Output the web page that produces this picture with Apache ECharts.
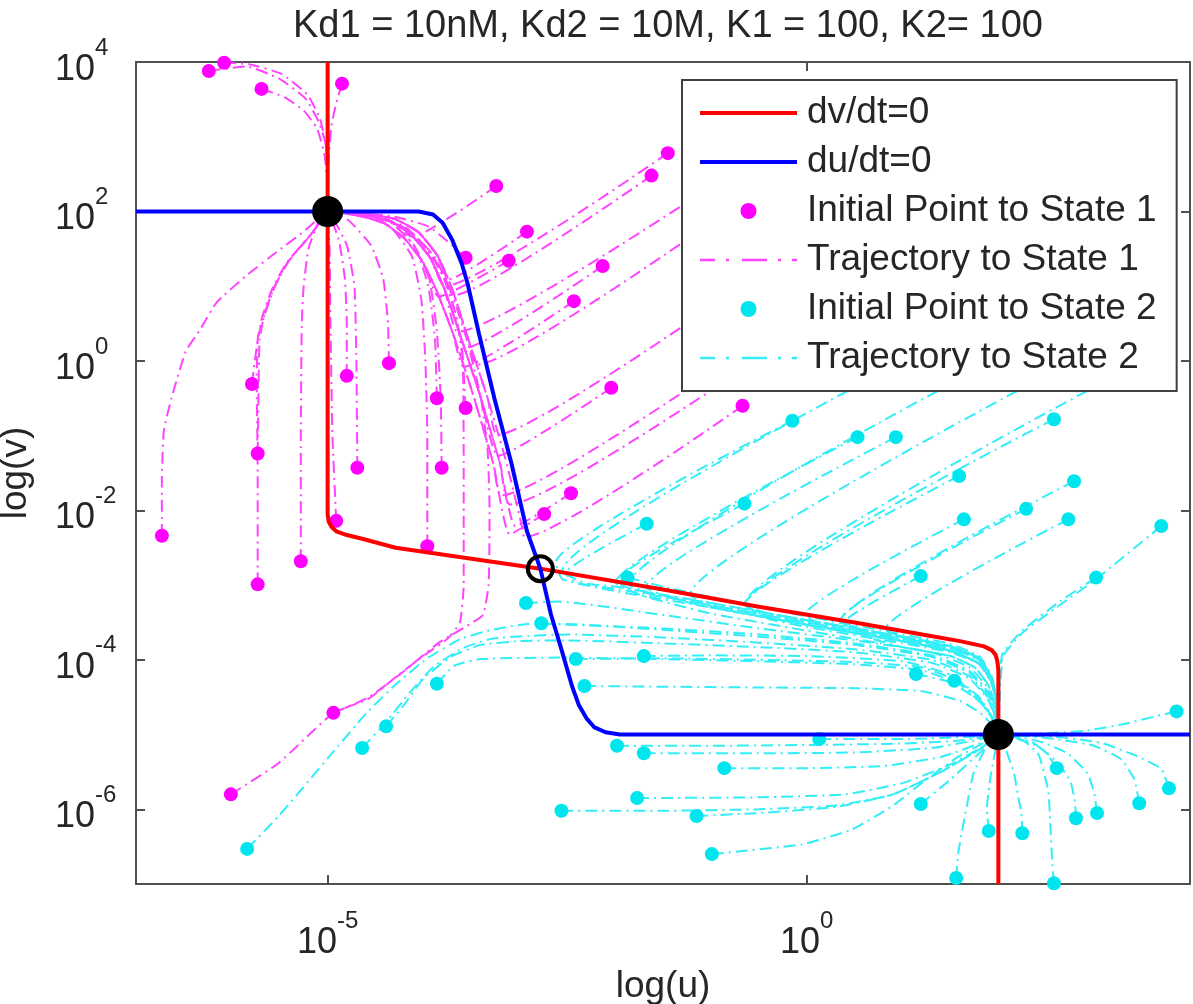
<!DOCTYPE html>
<html><head><meta charset="utf-8">
<script src="https://cdn.jsdelivr.net/npm/echarts@6/dist/echarts.min.js"></script>
<style>html,body{margin:0;padding:0;background:#fff}#c{width:1193px;height:1004px}</style>
</head><body><div id="c"></div>
<script>
// All values are log10 exponents: [log(u), log(v)]
const xTicks = [-5, 0];
const yTicks = [-6, -4, -2, 0, 2, 4];

const redNullcline = [[-5,4],[-5,-2.05],[-4.99,-2.15],[-4.96,-2.22],[-4.91,-2.28],[-4.8,-2.33],[-4.64,-2.38],[-4.29,-2.5],[-2.78,-2.78],[-1.5,-3.06],[-0.5,-3.29],[0.5,-3.5],[1.25,-3.67],[1.6,-3.75],[1.85,-3.82],[1.93,-3.87],[1.97,-3.93],[1.99,-4.02],[2,-4.15],[2,-7]];
const blueNullcline = [[-7,2],[-4.05,2],[-3.9,1.96],[-3.8,1.85],[-3.7,1.62],[-3.6,1.3],[-3.54,1.04],[-3.42,0.36],[-3.26,-0.5],[-3.08,-1.38],[-2.92,-2.28],[-2.78,-2.78],[-2.67,-3.39],[-2.56,-3.86],[-2.45,-4.35],[-2.38,-4.6],[-2.3,-4.78],[-2.22,-4.9],[-2.1,-4.97],[-1.95,-5],[4,-5]];
const stableStates = [[-5,2],[2,-5]];
const saddlePoint = [[-2.78,-2.78]];

// trajectories to state 1 (first point = initial point)
const trajectories1 = [
 [[-6.24,3.88],[-5.85,3.94],[-5.51,3.78],[-5.23,3.51],[-5.09,3.19],[-5.02,2.9],[-5.0,2.4],[-5,2]],
 [[-6.08,3.99],[-5.82,3.97],[-5.48,3.84],[-5.21,3.56],[-5.08,3.24],[-5.02,2.88],[-5.0,2.4],[-5,2]],
 [[-5.69,3.64],[-5.45,3.53],[-5.25,3.35],[-5.11,3.11],[-5.03,2.74],[-5.0,2.3],[-5,2]],
 [[-4.85,3.71],[-4.91,3.45],[-4.96,3.15],[-4.99,2.68],[-5,2]],
 [[-6.73,-2.34],[-6.73,-1.61],[-6.71,-0.94],[-6.63,-0.5],[-6.48,0.13],[-6.34,0.4],[-6.16,0.78],[-5.85,1.14],[-5.54,1.45],[-5.27,1.71],[-5.09,1.91],[-5,2]],
 [[-5.73,-2.99],[-5.73,-1.5],[-5.74,-0.3],[-5.73,0.29],[-5.68,0.6],[-5.58,0.96],[-5.43,1.31],[-5.19,1.67],[-5,2]],
 [[-5.73,-1.24],[-5.72,-0.3],[-5.71,0.29],[-5.66,0.62],[-5.56,0.98],[-5.41,1.33],[-5.18,1.68],[-5,2]],
 [[-5.79,-0.31],[-5.76,0.0],[-5.72,0.35],[-5.65,0.65],[-5.55,1.0],[-5.4,1.35],[-5.17,1.7],[-5,2]],
 [[-5.28,-2.68],[-5.28,-1.0],[-5.27,0.5],[-5.25,1.0],[-5.2,1.5],[-5.1,1.85],[-5,2]],
 [[-4.8,-0.2],[-4.8,0.5],[-4.82,1.1],[-4.88,1.6],[-4.96,1.9],[-5,2]],
 [[-4.69,-1.43],[-4.7,0.0],[-4.72,1.0],[-4.8,1.55],[-4.93,1.88],[-5,2]],
 [[-4.36,-0.03],[-4.37,0.5],[-4.42,1.1],[-4.55,1.55],[-4.78,1.88],[-5,2]],
 [[-4.91,-2.14],[-4.95,-1.0],[-4.97,0.5],[-4.98,1.5],[-5,2]],
 [[-3.96,-2.48],[-3.96,-1.0],[-3.98,0.0],[-4.02,0.8],[-4.12,1.4],[-4.35,1.8],[-4.7,1.96],[-5,2]],
 [[-3.86,-0.5],[-3.88,0.3],[-3.95,1.0],[-4.08,1.5],[-4.33,1.85],[-4.7,1.97],[-5,2]],
 [[-3.81,-1.43],[-3.82,-0.5],[-3.86,0.4],[-3.94,1.1],[-4.1,1.55],[-4.35,1.86],[-4.7,1.97],[-5,2]],
 [[-3.56,-0.63],[-3.6,0.2],[-3.72,0.9],[-3.9,1.4],[-4.15,1.75],[-4.5,1.93],[-5,2]],
 [[-3.56,1.38],[-3.75,1.6],[-3.95,1.8],[-4.3,1.93],[-4.7,1.98],[-5,2]],
 [[-6.01,-5.8],[-5.51,-5.38],[-4.94,-4.71],[-4.57,-4.52],[-4.25,-4.19],[-3.96,-3.91],[-3.75,-3.72],[-3.62,-3.5],[-3.58,-3.0],[-3.58,-1.5],[-3.59,0.0],[-3.66,0.6],[-3.8,1.15],[-4.0,1.55],[-4.3,1.85],[-4.7,1.97],[-5,2]],
 [[-4.94,-4.71],[-4.57,-4.5],[-4.2,-4.15],[-3.85,-3.78],[-3.55,-3.55],[-3.38,-3.4],[-3.32,-3.0],[-3.31,-2.0],[-3.33,-1.2],[-3.4,-0.5],[-3.55,0.3],[-3.72,0.95],[-3.9,1.42],[-4.2,1.8],[-4.65,1.96],[-5,2]],
 [[-1.45,2.78],[-3.78,1.0],[-3.93,1.38],[-4.13,1.69],[-4.36,1.88],[-4.66,1.96],[-5,2]],
 [[-1.62,2.48],[-3.68,0.88],[-3.85,1.4],[-4.05,1.72],[-4.3,1.9],[-4.62,1.97],[-5,2]],
 [[-2.13,1.27],[-3.57,0.17],[-3.62,0.36],[-3.78,0.96],[-3.93,1.38],[-4.13,1.69],[-4.36,1.88],[-4.66,1.96],[-5,2]],
 [[-2.43,0.8],[-3.58,-0.08],[-3.69,0.36],[-3.86,0.93],[-4.01,1.33],[-4.2,1.64],[-4.42,1.85],[-4.7,1.95],[-5,2]],
 [[-2.92,1.73],[-3.74,1.09],[-3.85,1.4],[-4.05,1.72],[-4.3,1.9],[-4.62,1.97],[-5,2]],
 [[-3.11,1.34],[-3.84,0.86],[-4.01,1.33],[-4.2,1.64],[-4.42,1.85],[-4.7,1.95],[-5,2]],
 [[-3.24,2.34],[-4.12,1.66],[-4.36,1.88],[-4.66,1.96],[-5,2]],
 [[-2.04,-0.36],[-3.22,-1.27],[-3.4,-0.5],[-3.62,0.36],[-3.78,0.96],[-3.93,1.38],[-4.13,1.69],[-4.36,1.88],[-4.66,1.96],[-5,2]],
 [[-0.67,-0.6],[-2.95,-2.36],[-2.96,-2.28],[-3.13,-1.38],[-3.33,-0.5],[-3.55,0.36],[-3.7,0.96],[-3.85,1.4],[-4.05,1.72],[-4.3,1.9],[-4.62,1.97],[-5,2]],
 [[-2.46,-1.77],[-3.04,-2.21],[-3.2,-1.38],[-3.4,-0.5],[-3.62,0.36],[-3.78,0.96],[-3.93,1.38],[-4.13,1.69],[-4.36,1.88],[-4.66,1.96],[-5,2]],
 [[-2.74,-2.05],[-3.1,-2.32],[-3.27,-1.38],[-3.47,-0.5],[-3.69,0.36],[-3.86,0.93],[-4.01,1.33],[-4.2,1.64],[-4.42,1.85],[-4.7,1.95],[-5,2]],
 [[-0.91,0.8],[-3.23,-0.99],[-3.33,-0.5],[-3.55,0.36],[-3.7,0.96],[-3.85,1.4],[-4.05,1.72],[-4.3,1.9],[-4.62,1.97],[-5,2]],
 [[-0.5,0.27],[-3.19,-1.8],[-3.27,-1.38],[-3.47,-0.5],[-3.69,0.36],[-3.86,0.93],[-4.01,1.33],[-4.2,1.64],[-4.42,1.85],[-4.7,1.95],[-5,2]],
 [[-0.08,0.4],[-3.1,-1.92],[-3.2,-1.38],[-3.4,-0.5],[-3.62,0.36],[-3.78,0.96],[-3.93,1.38],[-4.13,1.69],[-4.36,1.88],[-4.66,1.96],[-5,2]],
 [[-1.12,1.74],[-3.44,-0.05],[-3.55,0.36],[-3.7,0.96],[-3.85,1.4],[-4.05,1.72],[-4.3,1.9],[-4.62,1.97],[-5,2]],
 [[-0.91,2.41],[-3.64,0.39],[-3.78,0.96],[-3.93,1.38],[-4.13,1.69],[-4.36,1.88],[-4.66,1.96],[-5,2]]
];

// trajectories to state 2 (first point = initial point)
const trajectories2 = [
 [[-5.84,-6.53],[-5.51,-6.09],[-4.98,-5.29],[-4.6,-4.72],[-4.29,-4.33],[-3.96,-3.98],[-3.61,-3.72],[-3.29,-3.6],[-2.9,-3.52],[-2.5,-3.52],[-1.5,-3.6],[-0.5,-3.69],[0.5,-3.8],[1.3,-3.96],[1.7,-4.18],[1.9,-4.48],[1.98,-4.8],[2,-5]],
 [[-4.64,-5.18],[-4.4,-4.85],[-4.15,-4.45],[-3.9,-4.1],[-3.6,-3.85],[-3.3,-3.72],[-2.9,-3.68],[-2.5,-3.66],[-1.5,-3.7],[-0.5,-3.77],[0.5,-3.86],[1.3,-4.0],[1.7,-4.22],[1.9,-4.52],[1.98,-4.82],[2,-5]],
 [[-4.39,-4.89],[-4.2,-4.6],[-4.0,-4.25],[-3.7,-3.95],[-3.4,-3.8],[-3.0,-3.75],[-2.5,-3.74],[-1.5,-3.78],[-0.5,-3.83],[0.5,-3.9],[1.3,-4.04],[1.7,-4.25],[1.9,-4.55],[1.98,-4.83],[2,-5]],
 [[-2.93,-3.24],[-2.6,-3.22],[-1.5,-3.4],[-0.5,-3.58],[0.5,-3.74],[1.3,-3.9],[1.7,-4.1],[1.9,-4.4],[1.98,-4.75],[2,-5]],
 [[-2.77,-3.51],[-2.5,-3.53],[-1.5,-3.58],[-0.5,-3.66],[0.5,-3.78],[1.3,-3.94],[1.7,-4.15],[1.9,-4.45],[1.98,-4.78],[2,-5]],
 [[-2.41,-3.99],[-1.5,-3.98],[-0.5,-4.0],[0.5,-4.03],[1.2,-4.1],[1.6,-4.3],[1.85,-4.6],[1.97,-4.85],[2,-5]],
 [[-2.32,-4.35],[-1.5,-4.36],[-0.5,-4.37],[0.5,-4.38],[1.2,-4.42],[1.6,-4.55],[1.85,-4.75],[2,-5]],
 [[-1.7,-3.95],[-1.0,-3.94],[0.0,-3.95],[1.0,-4.02],[1.5,-4.2],[1.8,-4.5],[1.95,-4.8],[2,-5]],
 [[1.14,-4.19],[1.5,-4.3],[1.8,-4.55],[1.95,-4.8],[2,-5]],
 [[1.54,-4.28],[1.75,-4.45],[1.92,-4.75],[2,-5]],
 [[-3.86,-4.32],[-3.68,-4.08],[-3.4,-3.99],[-2.6,-3.97],[-1.5,-3.99],[-0.5,-4.02],[0.5,-4.06],[1.2,-4.14],[1.6,-4.33],[1.85,-4.62],[1.97,-4.86],[2,-5]],
 [[0.13,-5.06],[1.0,-5.06],[1.7,-5.03],[2,-5]],
 [[-1.98,-5.15],[-1.0,-5.15],[0.0,-5.14],[1.0,-5.12],[1.6,-5.08],[2,-5]],
 [[-1.7,-5.25],[-0.5,-5.25],[0.5,-5.24],[1.3,-5.18],[1.75,-5.08],[2,-5]],
 [[-0.86,-5.45],[0.0,-5.45],[0.8,-5.42],[1.4,-5.3],[1.8,-5.12],[2,-5]],
 [[-1.77,-5.85],[-0.5,-5.84],[0.4,-5.8],[1.0,-5.65],[1.5,-5.4],[1.85,-5.15],[2,-5]],
 [[-2.56,-6.02],[-1.5,-6.02],[-0.5,-6.0],[0.3,-5.95],[0.9,-5.8],[1.4,-5.5],[1.8,-5.2],[2,-5]],
 [[-1.15,-6.09],[-0.5,-6.05],[0.3,-5.97],[0.9,-5.8],[1.4,-5.5],[1.8,-5.2],[2,-5]],
 [[-0.99,-6.6],[-0.05,-6.47],[0.47,-6.27],[0.89,-5.96],[1.25,-5.6],[1.59,-5.29],[1.85,-5.11],[2,-5]],
 [[1.19,-5.93],[1.5,-5.6],[1.8,-5.25],[2,-5]],
 [[1.56,-6.92],[1.58,-6.6],[1.62,-6.3],[1.67,-5.96],[1.74,-5.52],[1.88,-5.15],[2,-5]],
 [[1.9,-6.29],[1.88,-6.0],[1.92,-5.55],[2,-5]],
 [[2.25,-6.32],[2.24,-6.05],[2.2,-5.78],[2.16,-5.5],[2.07,-5.18],[2,-5]],
 [[2.58,-6.99],[2.56,-6.67],[2.54,-6.13],[2.52,-5.75],[2.42,-5.27],[2.25,-5.07],[2,-5]],
 [[2.61,-5.45],[2.5,-5.25],[2.35,-5.1],[2.15,-5.03],[2,-5]],
 [[2.81,-6.12],[2.8,-5.9],[2.75,-5.62],[2.6,-5.35],[2.4,-5.15],[2.15,-5.04],[2,-5]],
 [[3.03,-6.05],[3.0,-5.78],[2.93,-5.52],[2.72,-5.25],[2.45,-5.1],[2.2,-5.03],[2,-5]],
 [[3.47,-5.92],[3.42,-5.6],[3.28,-5.33],[3.0,-5.15],[2.6,-5.06],[2.2,-5.01],[2,-5]],
 [[3.78,-5.72],[3.7,-5.46],[3.45,-5.29],[3.07,-5.11],[2.6,-5.03],[2,-5]],
 [[3.86,-4.69],[3.66,-4.75],[3.31,-4.86],[2.9,-4.95],[2.4,-4.99],[2,-5]],
 [[-0.15,-0.8],[-2.62,-2.7],[-2.55,-2.92],[-2.0,-3.08],[-1.0,-3.3],[0.0,-3.53],[1.0,-3.75],[1.5,-3.88],[1.8,-4.05],[1.93,-4.3],[1.99,-4.65],[2,-5]],
 [[0.53,-1.02],[-1.99,-2.96],[-1.7,-3.1],[-1.0,-3.24],[0.0,-3.47],[1.0,-3.69],[1.5,-3.82],[1.8,-3.98],[1.93,-4.25],[1.99,-4.6],[2,-5]],
 [[0.93,-1.02],[-1.68,-3.03],[-1.4,-3.18],[-1.0,-3.3],[0.0,-3.53],[1.0,-3.75],[1.5,-3.88],[1.8,-4.05],[1.93,-4.3],[1.99,-4.65],[2,-5]],
 [[-0.65,-1.91],[-2.0,-2.96],[-1.7,-3.15],[-1.0,-3.38],[0.0,-3.61],[1.0,-3.83],[1.5,-3.95],[1.75,-4.1],[1.9,-4.35],[1.98,-4.7],[2,-5]],
 [[1.19,-2.88],[0.39,-3.5],[0.65,-3.62],[1.0,-3.69],[1.5,-3.82],[1.8,-3.98],[1.93,-4.25],[1.99,-4.6],[2,-5]],
 [[1.59,-1.54],[-0.65,-3.26],[-0.4,-3.38],[0.0,-3.47],[1.0,-3.69],[1.5,-3.82],[1.8,-3.98],[1.93,-4.25],[1.99,-4.6],[2,-5]],
 [[1.64,-2.12],[-0.02,-3.4],[0.25,-3.58],[1.0,-3.75],[1.5,-3.88],[1.8,-4.05],[1.93,-4.3],[1.99,-4.65],[2,-5]],
 [[2.29,-1.98],[0.34,-3.48],[0.6,-3.62],[1.0,-3.75],[1.5,-3.88],[1.8,-4.05],[1.93,-4.3],[1.99,-4.65],[2,-5]],
 [[2.58,-0.78],[-0.64,-3.26],[-0.4,-3.43],[0.0,-3.53],[1.0,-3.75],[1.5,-3.88],[1.8,-4.05],[1.93,-4.3],[1.99,-4.65],[2,-5]],
 [[2.73,-2.12],[0.82,-3.59],[1.05,-3.72],[1.5,-3.82],[1.8,-3.98],[1.93,-4.25],[1.99,-4.6],[2,-5]],
 [[2.79,-1.61],[0.35,-3.48],[0.6,-3.68],[1.0,-3.83],[1.5,-3.95],[1.75,-4.1],[1.9,-4.35],[1.98,-4.7],[2,-5]],
 [[3.7,-2.21],[3.02,-2.92],[2.66,-3.25],[2.25,-3.64],[2.05,-3.95],[2.02,-4.4],[2,-5]],
 [[3.02,-2.9],[2.64,-3.22],[2.24,-3.62],[2.04,-3.93],[2.01,-4.4],[2,-5]],
 [[-1.67,-2.18],[-2.52,-2.84],[-2.3,-2.98],[-2.0,-3.02],[-1.0,-3.24],[0.0,-3.47],[1.0,-3.69],[1.5,-3.82],[1.8,-3.98],[1.93,-4.25],[1.99,-4.6],[2,-5]],
 [[-1.87,-2.9],[-1.5,-3.02],[-1.0,-3.16],[0.0,-3.42],[1.0,-3.66],[1.5,-3.79],[1.8,-3.95],[1.93,-4.22],[1.99,-4.6],[2,-5]],
 [[0.65,-0.25],[-2.55,-2.8],[-2.4,-2.97],[-2.0,-3.05],[-1.0,-3.27],[0.0,-3.5],[1.0,-3.72],[1.5,-3.85],[1.8,-4.0],[1.93,-4.28],[1.99,-4.62],[2,-5]],
 [[1.59,-0.25],[-1.86,-2.99],[-1.6,-3.12],[-1.0,-3.27],[0.0,-3.5],[1.0,-3.72],[1.5,-3.85],[1.8,-4.0],[1.93,-4.28],[1.99,-4.62],[2,-5]],
 [[2.42,-0.25],[-1.22,-3.13],[-0.95,-3.3],[0.0,-3.53],[1.0,-3.75],[1.5,-3.88],[1.8,-4.05],[1.93,-4.3],[1.99,-4.65],[2,-5]],
 [[3.15,-0.25],[-0.65,-3.26],[-0.4,-3.45],[0.0,-3.56],[1.0,-3.78],[1.5,-3.9],[1.8,-4.06],[1.93,-4.32],[1.99,-4.66],[2,-5]]
];

const titleText = 'Kd1 = 10nM, Kd2 = 10M, K1 = 100, K2= 100';
const FONT = '"Liberation Sans", Arial, Helvetica, sans-serif';
const TXT = '#262626';
const FRAME = '#505050';
const MAG_DOT = '#ff00ff', MAG_LINE = '#ff44ff';
const CY_DOT = '#00e6ee', CY_LINE = '#33eef6';
const DASHDOT = [12, 5, 2, 5];

const chart = echarts.init(document.getElementById('c'), null, {renderer: 'canvas'});

const rich = {
  b: {fontSize: 36, fontFamily: FONT, color: TXT, lineHeight: 52, verticalAlign: 'bottom'},
  s: {fontSize: 24, fontFamily: FONT, color: TXT, lineHeight: 26, verticalAlign: 'top'}
};
const powLabel = v => '{b|10}{s|' + v + '}';

function frameAxis(isX, pos, main) {
  const ax = {
    type: 'value', min: -7, max: 4, position: pos,
    axisLine: {show: true, onZero: false, lineStyle: {color: FRAME, width: 2}},
    axisTick: {show: true, inside: true, length: 9, customValues: isX ? xTicks : yTicks, lineStyle: {color: FRAME, width: 2}},
    axisLabel: main ? (isX
      ? {customValues: xTicks, formatter: powLabel, rich: rich, margin: 25}
      : {customValues: yTicks, formatter: powLabel, rich: rich, margin: 81, align: 'left'}) : {show: false},
    splitLine: {show: false}
  };
  if (main) {
    ax.name = isX ? 'log(u)' : 'log(v)';
    ax.nameLocation = 'middle';
    ax.nameGap = isX ? 84 : 102;
    ax.nameTextStyle = {fontSize: 37, fontFamily: FONT, color: TXT};
  }
  return ax;
}

const series = [];
trajectories1.forEach(t => series.push({
  type: 'line', name: 'Trajectory to State 1', data: t, smooth: 0.15, symbol: 'none',
  lineStyle: {color: MAG_LINE, width: 2, type: DASHDOT}, itemStyle: {color: MAG_LINE}, z: 2, silent: true
}));
trajectories2.forEach(t => series.push({
  type: 'line', name: 'Trajectory to State 2', data: t, smooth: 0.15, symbol: 'none',
  lineStyle: {color: CY_LINE, width: 2, type: DASHDOT}, itemStyle: {color: CY_LINE}, z: 2, silent: true
}));
series.push({type: 'scatter', name: 'Initial Point to State 1', data: trajectories1.map(t => t[0]), symbolSize: 14, itemStyle: {color: MAG_DOT, opacity: 1}, z: 3, silent: true});
series.push({type: 'scatter', name: 'Initial Point to State 2', data: trajectories2.map(t => t[0]), symbolSize: 14, itemStyle: {color: CY_DOT, opacity: 1}, z: 3, silent: true});
series.push({type: 'line', name: 'dv/dt=0', data: redNullcline, symbol: 'none', lineStyle: {color: '#ff0000', width: 4}, itemStyle: {color: '#ff0000'}, z: 4, silent: true});
series.push({type: 'line', name: 'du/dt=0', data: blueNullcline, symbol: 'none', lineStyle: {color: '#0000ff', width: 4}, itemStyle: {color: '#0000ff'}, z: 4, silent: true});
series.push({type: 'scatter', name: 'Stable states', data: stableStates, symbolSize: 31, itemStyle: {color: '#000', opacity: 1}, z: 5, silent: true});
series.push({type: 'scatter', name: 'Saddle', data: saddlePoint, symbolSize: 25, itemStyle: {color: 'rgba(0,0,0,0)', borderColor: '#000', borderWidth: 4, opacity: 1}, z: 5, silent: true});

const lineIcon = 'path://M0,0h100v4h-100z';
const dashIcon = 'path://M0,0h15v2.6h-15z M26,0h3v2.6h-3z M42,0h25v2.6h-25z M78,0h3v2.6h-3z M92,0h5v2.6h-5z';

chart.setOption({
  animation: false,
  backgroundColor: '#fff',
  title: {text: titleText, left: 663, top: 3, textAlign: 'center', textStyle: {fontSize: 38, fontWeight: 'normal', fontFamily: FONT, color: TXT}},
  grid: {left: 136, right: 3, top: 62, bottom: 120, containLabel: false, outerBoundsMode: 'none'},
  xAxis: [frameAxis(true, 'bottom', true), frameAxis(true, 'top', false)],
  yAxis: [frameAxis(false, 'left', true), frameAxis(false, 'right', false)],
  legend: {
    orient: 'vertical', left: 682, top: 80, z: 10, selectedMode: false,
    padding: [13, 20, 13, 18], itemWidth: 97, itemHeight: 16, itemGap: 9,
    backgroundColor: '#fff', borderColor: '#404040', borderWidth: 2, borderRadius: 0,
    textStyle: {fontSize: 37, fontFamily: FONT, color: TXT, lineHeight: 40, padding: [0, 0, 0, 5]},
    data: [
      {name: 'dv/dt=0', icon: lineIcon},
      {name: 'du/dt=0', icon: lineIcon},
      {name: 'Initial Point to State 1', icon: 'circle'},
      {name: 'Trajectory to State 1', icon: dashIcon},
      {name: 'Initial Point to State 2', icon: 'circle'},
      {name: 'Trajectory to State 2', icon: dashIcon}
    ]
  },
  series: series
});
</script></body></html>
